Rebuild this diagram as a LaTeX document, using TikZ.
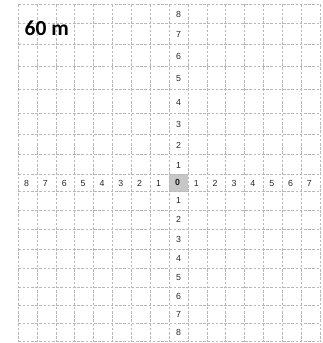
\documentclass[tikz,border=0pt]{standalone}
\usepackage{fontspec}
\setmainfont{Liberation Sans}
\newfontfamily\titlefont{Carlito}
\begin{document}
\begin{tikzpicture}[x=1pt,y=-1pt,
  gridline/.style={draw=black!28,line width=0.8pt,dash pattern=on 2.6pt off 1.6pt},
  numlbl/.style={font=\fontsize{8.8}{10}\selectfont,text=black!85,inner sep=0pt},
  zerolbl/.style={font=\fontsize{8.8}{10}\selectfont\bfseries,text=black!90,inner sep=0pt},
  titlelbl/.style={font=\titlefont\fontsize{21.5}{24}\selectfont\bfseries,inner sep=0pt,anchor=base west}]
\useasboundingbox (0,0) rectangle (322,343);
% centre cell
\fill[black!22] (169.2,174.3) rectangle (188,191.7);
% horizontal lines
\foreach \yy in {4.3,23.3,44.3,66.7,89.3,113.3,134.3,154.3,174.3,191.7,210,229.3,249.3,268.3,287.3,305.5,323.8,341.7}
  \draw[gridline] (18.3,\yy) -- (320,\yy);
% vertical lines
\foreach \i in {0,...,16}
  \draw[gridline] ({18.3+18.86*\i},4.3) -- ({18.3+18.86*\i},341.7);
% row labels (vertical axis)
\foreach \n/\yy in {8/13.8,7/33.8,6/55.5,5/78,4/101.8,3/123.8,2/144.3,1/164.3}
  \node[numlbl] (up\n) at (178.6,\yy+0.8) {\n};
\foreach \n/\yy in {1/200.8,2/219.6,3/239.3,4/258.8,5/277.8,6/296.4,7/314.6,8/332.7}
  \node[numlbl] (dn\n) at (178.6,\yy) {\n};
% column labels (horizontal axis)
\foreach \n/\i in {8/0,7/1,6/2,5/3,4/4,3/5,2/6,1/7}
  \node[numlbl] (lf\n) at ({18.3+18.86*(\i+0.5)-1.2},183.2) {\n};
\foreach \n/\i in {1/9,2/10,3/11,4/12,5/13,6/14,7/15}
  \node[numlbl] (rt\n) at ({18.3+18.86*(\i+0.5)-1.2},183.2) {\n};
\node[zerolbl] (zero) at (177.6,182.6) {0};
% title
\node[titlelbl] (title) at (24.5,35.5) {60 m};
\end{tikzpicture}
\end{document}
